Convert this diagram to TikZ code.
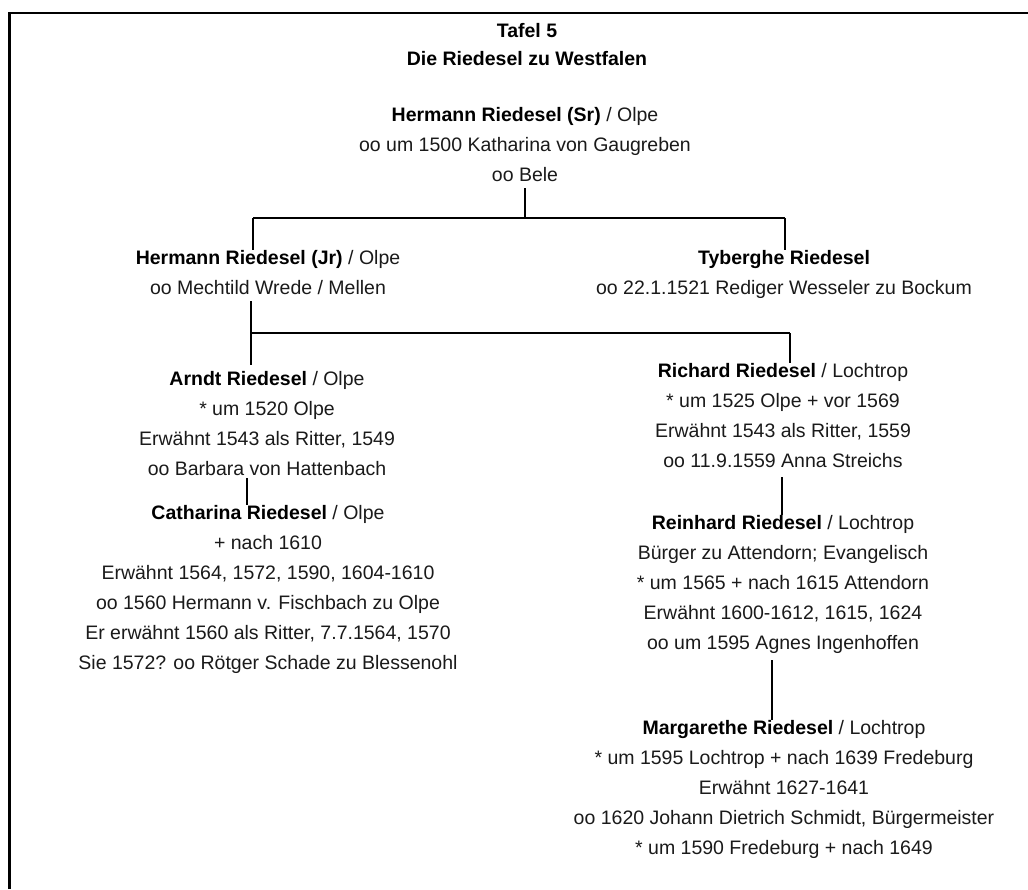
\documentclass[tikz,border=0pt]{standalone}
\usepackage{fontspec}
\setmainfont{Liberation Sans}
\definecolor{txt}{HTML}{1A1A1A}
\newcommand\pname[1]{{\bfseries\color{black}#1}}
\begin{document}
\begin{tikzpicture}[x=1pt,y=-1pt,
  person/.style={align=center, inner sep=0pt, anchor=base, text=txt,
    font=\fontsize{19.5}{30}\selectfont},
  heading/.style={align=center, inner sep=0pt, anchor=base, text=black,
    font=\fontsize{19.5}{30}\selectfont\bfseries},
  vline/.style={line width=2.8pt, black},
  hline/.style={line width=2pt, black},
  frame/.style={line width=2.5pt, black, line join=miter}]
\useasboundingbox (0,0) rectangle (1028,889);
\fill[white] (0,0) rectangle (1028,889);
\draw[frame] (9.5,889) -- (9.5,13) -- (1028,13);

% headings
\node[heading] (t1) at (527,37) {Tafel 5};
\node[heading] (t2) at (527,65) {Die Riedesel zu Westfalen};

% persons (anchor = baseline of the last line)
\node[person] (hsr) at (525,181) {\pname{Hermann Riedesel (Sr)} / Olpe\\oo um 1500 Katharina von Gaugreben\\oo Bele};
\node[person] (hjr) at (268,294) {\pname{Hermann Riedesel (Jr)} / Olpe\\oo Mechtild Wrede / Mellen};
\node[person] (tyb) at (784,294) {\pname{Tyberghe Riedesel}\\oo 22.1.1521 Rediger Wesseler zu Bockum};
\node[person] (arn) at (267,475) {\pname{Arndt Riedesel} / Olpe\\* um 1520 Olpe\\Erwähnt 1543 als Ritter, 1549\\oo Barbara von Hattenbach};
\node[person] (cat) at (268,669) {\pname{Catharina Riedesel} / Olpe\\+ nach 1610\\Erwähnt 1564, 1572, 1590, 1604-1610\\oo 1560 Hermann v. Fischbach zu Olpe\\Er erwähnt 1560 als Ritter, 7.7.1564, 1570\\Sie 1572? oo Rötger Schade zu Blessenohl};
\node[person] (ric) at (783,467) {\pname{Richard Riedesel} / Lochtrop\\* um 1525 Olpe + vor 1569\\Erwähnt 1543 als Ritter, 1559\\oo 11.9.1559 Anna Streichs};
\node[person] (rei) at (783,649) {\pname{Reinhard Riedesel} / Lochtrop\\Bürger zu Attendorn; Evangelisch\\* um 1565 + nach 1615 Attendorn\\Erwähnt 1600-1612, 1615, 1624\\oo um 1595 Agnes Ingenhoffen};
\node[person] (mar) at (784,854) {\pname{Margarethe Riedesel} / Lochtrop\\* um 1595 Lochtrop + nach 1639 Fredeburg\\Erwähnt 1627-1641\\oo 1620 Johann Dietrich Schmidt, Bürgermeister\\* um 1590 Fredeburg + nach 1649};

% junction points
\coordinate (a1) at (525,188);
\coordinate (a2) at (525,218);
\coordinate (aL) at (253,218);
\coordinate (aR) at (785,218);
\coordinate (b1) at (251,301);
\coordinate (b2) at (251,365);
\coordinate (bL) at (251,333);
\coordinate (bR) at (790,333);
\coordinate (c1) at (247,478);
\coordinate (d1) at (782,477);
\coordinate (e1) at (772,660);

% connectors
\draw[vline] (a1) -- (a2);
\draw[hline] (aL) -- (aR);
\draw[vline] (aL) -- (aL |- hjr.north);
\draw[vline] (aR) -- (aR |- tyb.north);
\draw[vline] (b1) -- (b2);
\draw[hline] (bL) -- (bR);
\draw[vline] (bR) -- (bR |- ric.north);
\draw[vline] (c1) -- (c1 |- cat.north);
\draw[vline] (d1) -- (d1 |- rei.north);
\draw[vline] (e1) -- (e1 |- mar.north);
\end{tikzpicture}
\end{document}
